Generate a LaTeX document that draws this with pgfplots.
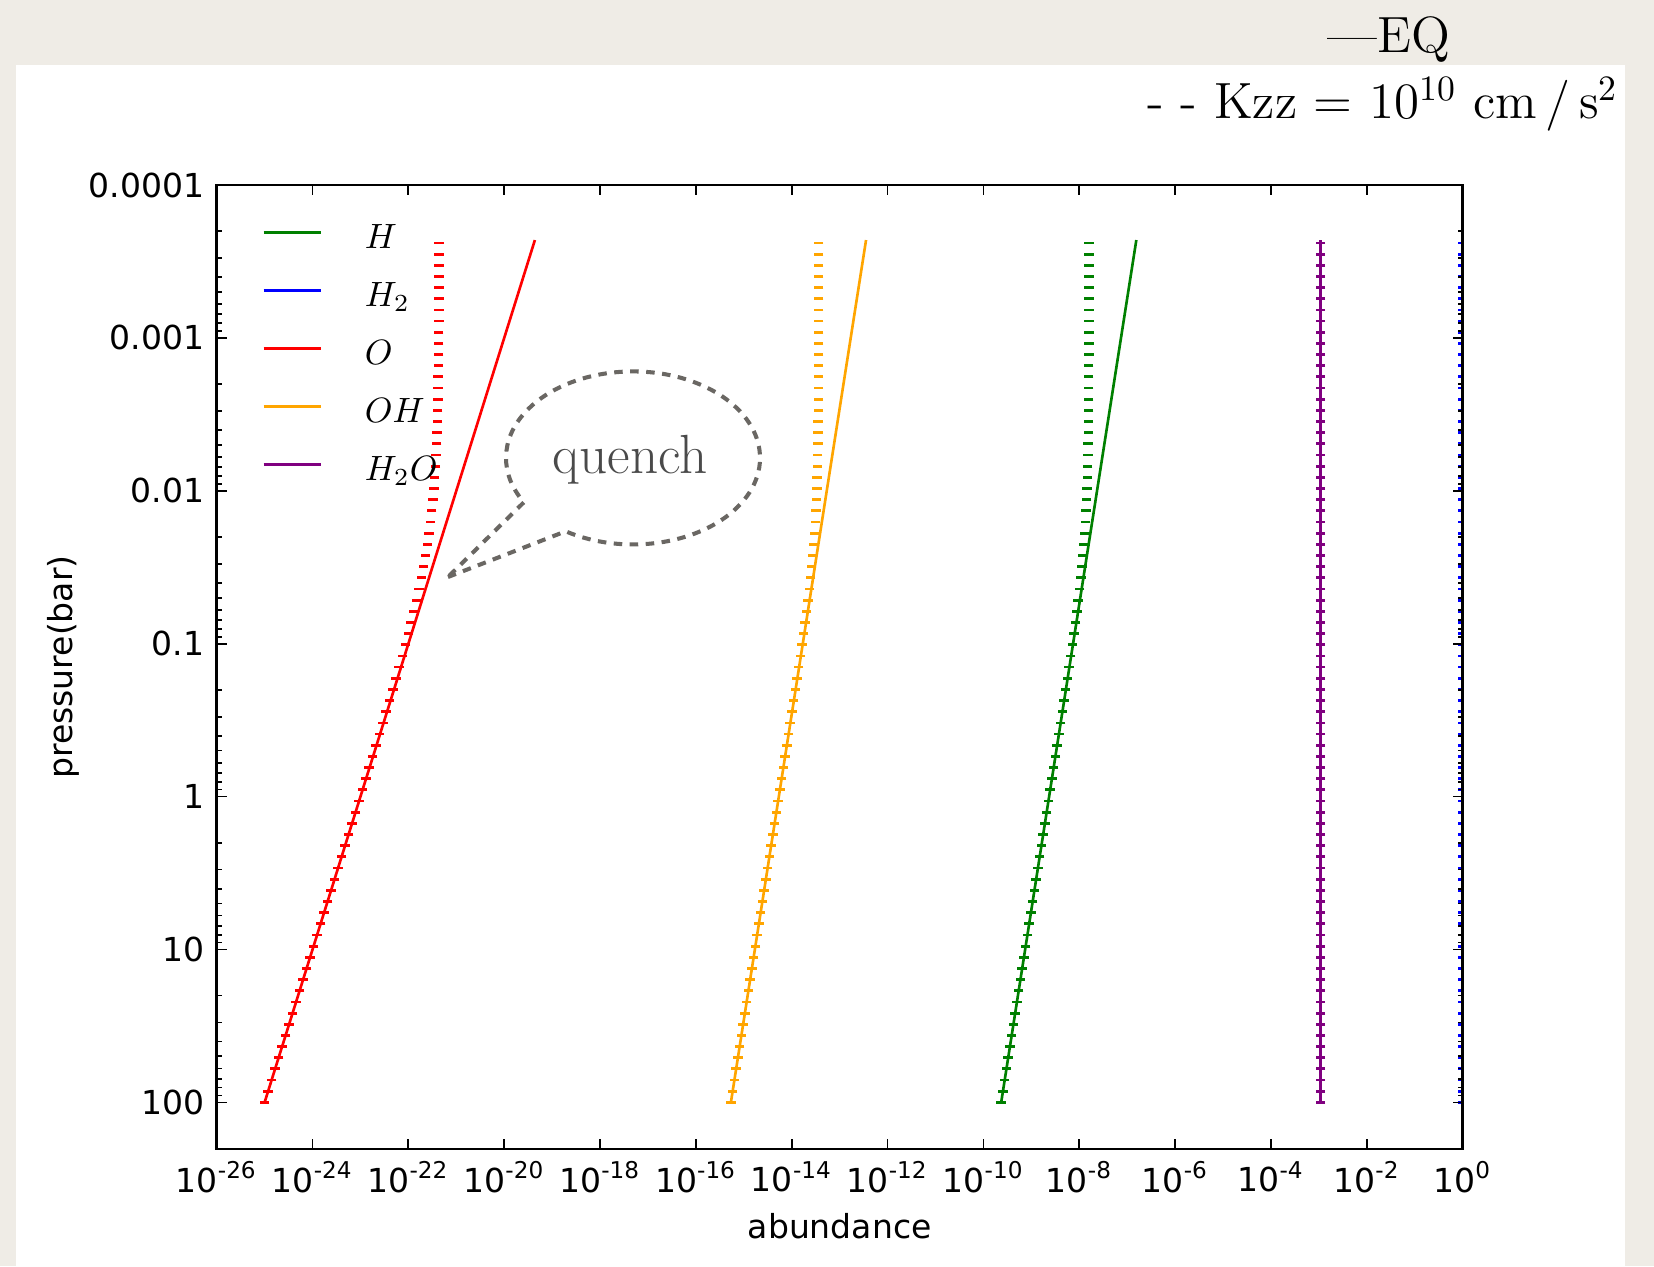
\documentclass[border=0pt]{standalone}
\usepackage{fontspec}
\usepackage{pgfplots}
\usepackage{pgfplotstable}
\pgfplotsset{compat=1.18}
\newfontfamily\djv{DejaVu Sans}
\definecolor{mplgreen}{rgb}{0,0.5,0}
\definecolor{mplorange}{HTML}{FFA500}
\definecolor{mplpurple}{rgb}{0.5,0,0.5}
\definecolor{paper}{HTML}{EFECE6}
\definecolor{bubble}{HTML}{6A6763}
\definecolor{qtext}{HTML}{4A4A4A}

% log10(pressure), log10(abundance) -- equilibrium (end points of straight lines)
\pgfplotstableread{
lp     H      H2     O       OH      H2O
2.00  -9.63  -0.001 -25.00  -15.27  -2.97
-3.64 -6.81  -0.001 -19.36  -12.45  -2.97
}\eqtab

% log10(pressure), log10(abundance) -- Kzz = 1e10
\pgfplotstableread{
lp O OH H H2O H2
2.000 -25.000 -15.270 -9.630 -2.97 -0.001
1.927 -24.927 -15.234 -9.594 -2.97 -0.001
1.854 -24.854 -15.197 -9.557 -2.97 -0.001
1.781 -24.781 -15.161 -9.521 -2.97 -0.001
1.708 -24.708 -15.124 -9.484 -2.97 -0.001
1.635 -24.635 -15.088 -9.448 -2.97 -0.001
1.562 -24.562 -15.051 -9.411 -2.97 -0.001
1.489 -24.489 -15.015 -9.375 -2.97 -0.001
1.416 -24.416 -14.978 -9.338 -2.97 -0.001
1.343 -24.343 -14.942 -9.302 -2.97 -0.001
1.270 -24.270 -14.905 -9.265 -2.97 -0.001
1.197 -24.197 -14.869 -9.229 -2.97 -0.001
1.124 -24.124 -14.832 -9.192 -2.97 -0.001
1.051 -24.051 -14.796 -9.156 -2.97 -0.001
0.978 -23.978 -14.759 -9.119 -2.97 -0.001
0.905 -23.905 -14.723 -9.083 -2.97 -0.001
0.832 -23.832 -14.686 -9.046 -2.97 -0.001
0.759 -23.759 -14.650 -9.010 -2.97 -0.001
0.686 -23.686 -14.613 -8.973 -2.97 -0.001
0.613 -23.613 -14.577 -8.937 -2.97 -0.001
0.540 -23.540 -14.540 -8.900 -2.97 -0.001
0.467 -23.467 -14.504 -8.864 -2.97 -0.001
0.394 -23.394 -14.467 -8.827 -2.97 -0.001
0.321 -23.321 -14.431 -8.791 -2.97 -0.001
0.248 -23.248 -14.394 -8.754 -2.97 -0.001
0.175 -23.175 -14.358 -8.718 -2.97 -0.001
0.102 -23.105 -14.321 -8.681 -2.97 -0.001
0.029 -23.033 -14.285 -8.645 -2.97 -0.001
-0.044 -22.960 -14.248 -8.608 -2.97 -0.001
-0.117 -22.888 -14.212 -8.572 -2.97 -0.001
-0.190 -22.817 -14.176 -8.536 -2.97 -0.001
-0.263 -22.745 -14.140 -8.500 -2.97 -0.001
-0.336 -22.674 -14.104 -8.464 -2.97 -0.001
-0.409 -22.603 -14.068 -8.428 -2.97 -0.001
-0.482 -22.532 -14.032 -8.392 -2.97 -0.001
-0.555 -22.463 -13.996 -8.356 -2.97 -0.001
-0.628 -22.394 -13.960 -8.320 -2.97 -0.001
-0.701 -22.325 -13.925 -8.285 -2.97 -0.001
-0.774 -22.258 -13.890 -8.250 -2.97 -0.001
-0.847 -22.191 -13.855 -8.215 -2.97 -0.001
-0.920 -22.126 -13.821 -8.181 -2.97 -0.001
-0.993 -22.063 -13.787 -8.147 -2.97 -0.001
-1.066 -22.001 -13.755 -8.115 -2.97 -0.001
-1.139 -21.942 -13.723 -8.083 -2.97 -0.001
-1.212 -21.885 -13.692 -8.052 -2.97 -0.001
-1.285 -21.830 -13.663 -8.023 -2.97 -0.001
-1.358 -21.779 -13.635 -7.995 -2.97 -0.001
-1.431 -21.730 -13.609 -7.969 -2.97 -0.001
-1.504 -21.685 -13.585 -7.945 -2.97 -0.001
-1.577 -21.644 -13.563 -7.923 -2.97 -0.001
-1.650 -21.606 -13.543 -7.903 -2.97 -0.001
-1.723 -21.572 -13.525 -7.885 -2.97 -0.001
-1.796 -21.541 -13.510 -7.870 -2.97 -0.001
-1.869 -21.514 -13.497 -7.857 -2.97 -0.001
-1.942 -21.490 -13.486 -7.846 -2.97 -0.001
-2.015 -21.470 -13.477 -7.837 -2.97 -0.001
-2.088 -21.452 -13.470 -7.830 -2.97 -0.001
-2.161 -21.437 -13.464 -7.824 -2.97 -0.001
-2.234 -21.424 -13.459 -7.819 -2.97 -0.001
-2.307 -21.413 -13.455 -7.815 -2.97 -0.001
-2.380 -21.404 -13.452 -7.812 -2.97 -0.001
-2.453 -21.396 -13.449 -7.809 -2.97 -0.001
-2.526 -21.390 -13.447 -7.807 -2.97 -0.001
-2.599 -21.385 -13.446 -7.806 -2.97 -0.001
-2.672 -21.380 -13.444 -7.804 -2.97 -0.001
-2.745 -21.377 -13.443 -7.803 -2.97 -0.001
-2.818 -21.374 -13.443 -7.803 -2.97 -0.001
-2.891 -21.371 -13.442 -7.802 -2.97 -0.001
-2.964 -21.369 -13.442 -7.802 -2.97 -0.001
-3.037 -21.368 -13.441 -7.801 -2.97 -0.001
-3.110 -21.366 -13.441 -7.801 -2.97 -0.001
-3.183 -21.365 -13.440 -7.800 -2.97 -0.001
-3.256 -21.364 -13.440 -7.800 -2.97 -0.001
-3.329 -21.363 -13.440 -7.800 -2.97 -0.001
-3.402 -21.363 -13.440 -7.800 -2.97 -0.001
-3.475 -21.362 -13.440 -7.800 -2.97 -0.001
-3.548 -21.362 -13.440 -7.800 -2.97 -0.001
-3.621 -21.361 -13.440 -7.800 -2.97 -0.001
}\kzztab

\begin{document}
\begin{tikzpicture}[x=1cm,y=1cm]
\fill[paper] (0,0) rectangle (16.54,12.66);
\fill[white] (0.16,0) rectangle (16.25,12.01);
\begin{axis}[
  at={(2.167cm,1.17cm)}, anchor=south west,
  width=12.46cm, height=9.64cm, scale only axis,
  xmode=log, ymode=log, y dir=reverse,
  xmin=1e-26, xmax=1,
  ymin=1e-4, ymax=201.8,
  clip marker paths=true,
  xtick={1e-26,1e-24,1e-22,1e-20,1e-18,1e-16,1e-14,1e-12,1e-10,1e-8,1e-6,1e-4,1e-2,1},
  xticklabels={10\textsuperscript{-26},10\textsuperscript{-24},10\textsuperscript{-22},10\textsuperscript{-20},10\textsuperscript{-18},10\textsuperscript{-16},10\textsuperscript{-14},10\textsuperscript{-12},10\textsuperscript{-10},10\textsuperscript{-8},10\textsuperscript{-6},10\textsuperscript{-4},10\textsuperscript{-2},10\textsuperscript{0}},
  xminorticks=false,
  ytick={1e-4,1e-3,1e-2,1e-1,1,10,100},
  yticklabels={0.0001,0.001,0.01,0.1,1,10,100},
  minor ytick={2e-4,3e-4,4e-4,5e-4,6e-4,7e-4,8e-4,9e-4,
               2e-3,3e-3,4e-3,5e-3,6e-3,7e-3,8e-3,9e-3,
               0.02,0.03,0.04,0.05,0.06,0.07,0.08,0.09,
               0.2,0.3,0.4,0.5,0.6,0.7,0.8,0.9,
               2,3,4,5,6,7,8,9,
               20,30,40,50,60,70,80,90},
  tick align=inside,
  major tick length=0.1cm, minor tick length=0.05cm,
  every tick/.style={black, line width=0.5pt},
  axis line style={black, line width=0.8pt},
  ticklabel style={font=\djv\fontsize{9.4}{11}\selectfont},
  xlabel={abundance}, ylabel={pressure(bar)},
  label style={font=\djv\fontsize{9.4}{11}\selectfont},
  xlabel style={at={(axis description cs:0.5,-0.093)}, anchor=base},
  ylabel style={at={(axis description cs:-0.123,0.5)}, anchor=center},
  legend style={at={(axis description cs:0.036,0.962)}, anchor=north west,
    draw=none, fill=none, inner sep=0pt, row sep=0.22cm,
    font=\fontsize{10}{12}\selectfont,
    nodes={inner sep=0pt, text height=0.26cm, text depth=0.1cm}},
  legend cell align=left,
  legend image code/.code={\draw[#1] (0cm,0.08cm) -- (0.57cm,0.08cm); \path (1.0cm,0.08cm);},
  axis on top,
]
% equilibrium
\addplot[mplgreen, line width=0.75pt] table[x expr={10^(\thisrow{H})}, y expr={10^(\thisrow{lp})}] {\eqtab};
\addlegendentry{$H$}
\addplot[blue, line width=0.75pt] table[x expr={10^(\thisrow{H2})}, y expr={10^(\thisrow{lp})}] {\eqtab};
\addlegendentry{$H_2$}
\addplot[red, line width=0.75pt] table[x expr={10^(\thisrow{O})}, y expr={10^(\thisrow{lp})}] {\eqtab};
\addlegendentry{$O$}
\addplot[mplorange, line width=0.75pt] table[x expr={10^(\thisrow{OH})}, y expr={10^(\thisrow{lp})}] {\eqtab};
\addlegendentry{$OH$}
\addplot[mplpurple, line width=0.75pt] table[x expr={10^(\thisrow{H2O})}, y expr={10^(\thisrow{lp})}] {\eqtab};
\addlegendentry{$H_2O$}
% Kzz
\addplot[forget plot, only marks, mark=-, mark size=1.35pt, mplgreen, mark options={line width=0.8pt}] table[x expr={10^(\thisrow{H})}, y expr={10^(\thisrow{lp})}] {\kzztab};
\addplot[forget plot, only marks, mark=-, mark size=1.35pt, blue, mark options={line width=0.8pt}] table[x expr={10^(\thisrow{H2})}, y expr={10^(\thisrow{lp})}] {\kzztab};
\addplot[forget plot, only marks, mark=-, mark size=1.35pt, red, mark options={line width=0.8pt}] table[x expr={10^(\thisrow{O})}, y expr={10^(\thisrow{lp})}] {\kzztab};
\addplot[forget plot, only marks, mark=-, mark size=1.35pt, mplorange, mark options={line width=0.8pt}] table[x expr={10^(\thisrow{OH})}, y expr={10^(\thisrow{lp})}] {\kzztab};
\addplot[forget plot, only marks, mark=-, mark size=1.35pt, mplpurple, mark options={line width=0.8pt}] table[x expr={10^(\thisrow{H2O})}, y expr={10^(\thisrow{lp})}] {\kzztab};
\end{axis}
% quench speech bubble
\draw[bubble, line width=1.15pt, dash pattern=on 0.085cm off 0.075cm]
  (4.48,6.89) -- (5.657,7.347) arc[start angle=238, end angle=570.8, x radius=1.27, y radius=0.865] -- cycle;
\node[qtext, anchor=base, inner sep=0pt, font=\fontsize{15.7}{18}\selectfont] at (6.30,7.93) {quench};
% header text
\node[anchor=base west, inner sep=0pt, font=\fontsize{14.5}{17}\selectfont] at (13.27,12.13) {---EQ};
\node[anchor=base east, inner sep=0pt, font=\fontsize{14.5}{17}\selectfont] at (16.19,11.47) {- - Kzz = 10\textsuperscript{10} cm\,/\,s\textsuperscript{2}};
\end{tikzpicture}
\end{document}
